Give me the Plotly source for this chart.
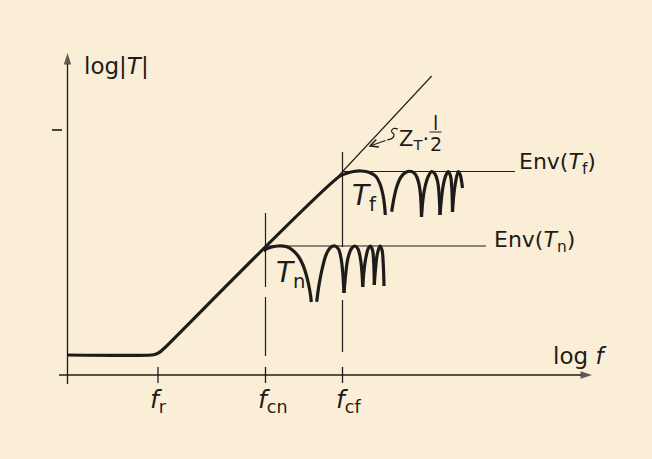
import plotly.graph_objects as go

# Frame: origin at the corner of the axes; x = log f, y = log|T| (arbitrary units)
X_MIN, X_MAX = -67.5, 584.5
Y_MIN, Y_MAX = -84.0, 375.0

INK = "#1e1c1a"
PAPER = "#faefd6"
FONT = "DejaVu Sans"

# characteristic frequencies on the log f axis
freq_subs = ["r", "cn", "cf"]
freq_pos = [90.5, 198.0, 275.0]
freq_label_dx = [-9.0, -8.5, -7.5]

# envelope levels of the two responses
env_n_level = 129.0
env_f_level = 203.5
env_n_x = [198.0, 418.5]
env_f_x = [275.0, 447.5]

# asymptotic response: plateau, 45-degree rise, then first lobe of T_f
main_x = [0, 84, 88, 91.5, 94.5, 97.5, 272.5, 278.5, 286, 294, 302, 308.5, 312.5, 315.5, 317, 317.8]
main_y = [20, 20, 20.7, 22.3, 24.7, 27.5, 199, 201.5, 203.5, 204, 202.5, 198.5, 191, 180, 170, 160]

# T_n lobes (each list is one arch between zeros)
tn_lobes_x = [
    [196, 202.5, 210.5, 218.5, 225.5, 231, 235.5, 238.5, 241, 243, 243.8],
    [249.2, 251.5, 254.2, 258.5, 263, 267.5, 271, 273.5, 275.2, 276.5],
    [276.5, 278.3, 280.5, 284, 287.5, 290.5, 293, 294.5, 295.2],
    [295.2, 296.5, 298.5, 301, 303, 305, 306.2, 306.8],
    [306.8, 308, 310, 312.5, 314.5, 315.8, 316.5],
]
tn_lobes_y = [
    [124.5, 127.5, 129, 128.5, 124.5, 118.5, 110, 101, 91, 80, 73],
    [73.3, 90, 104, 120, 127.5, 129, 126, 117, 103, 82],
    [82, 102, 117, 126.5, 129, 126, 116, 102, 88],
    [88, 104, 118, 127, 129, 125, 112, 90],
    [90, 106, 122, 129, 125, 110, 89],
]

# T_f lobes after the first one
tf_lobes_x = [
    [324.2, 326.5, 329.5, 333.5, 338.5, 344, 348, 351, 353, 354],
    [354, 355.5, 357.5, 360.5, 364.2, 367.5, 370, 371.5, 372.5],
    [372.5, 374, 376, 378.5, 380.8, 383, 384.3, 385],
    [385, 386.3, 388.3, 390.8, 392.8, 394.2, 395],
]
tf_lobes_y = [
    [163.3, 177, 189, 198, 202.8, 203.5, 200.5, 193, 180, 158],
    [158, 176, 188, 198, 203.5, 201, 194, 182, 160],
    [160, 177, 191, 200, 203.5, 199, 187, 163],
    [163, 180, 194, 203.5, 200, 193, 187],
]

# asymptote Z_T * l/2 continuing beyond f_cf
asym_x = [270.0, 364.2]
asym_y = [198.0, 299.0]

# dashed guides above f_cn and f_cf (y extents of each dash)
guide_cn_y = [[162, 88], [78, 19]]
guide_cf_y = [[223, 128], [75, 23]]

# axis extents
x_axis_x = [-8.5, 524.5]
y_axis_y = [-9.0, 322.0]

# pointer squiggle to the asymptote
squiggle_x = [330.5, 326, 324, 326.5, 325, 319.5]
squiggle_y = [246, 246.5, 243.5, 240.5, 237, 235]
pointer_tip = (301.0, 228.5)

fig = go.Figure()


def add_line(xs, ys, width, shape="linear"):
    fig.add_trace(go.Scatter(
        x=xs, y=ys, mode="lines",
        line=dict(color=INK, width=width, shape=shape, smoothing=1),
        hoverinfo="skip", showlegend=False, connectgaps=False))


def add_axis(xs, ys):
    fig.add_trace(go.Scatter(
        x=xs, y=ys, mode="lines+markers",
        line=dict(color=INK, width=1.3),
        marker=dict(symbol="arrow", size=[0, 12], angleref="previous",
                    color=INK, line=dict(width=0)),
        hoverinfo="skip", showlegend=False))


def join(segs_x, segs_y):
    xs, ys = [], []
    for sx, sy in zip(segs_x, segs_y):
        xs += list(sx) + [None]
        ys += list(sy) + [None]
    return xs, ys


def add_text(x, y, s, size, xanchor="left", yanchor="middle"):
    fig.add_annotation(
        x=x, y=y, xref="x", yref="y", text=s, showarrow=False,
        xanchor=xanchor, yanchor=yanchor, borderpad=0,
        font=dict(family=FONT, size=size, color=INK))


# axes with arrows
add_axis(x_axis_x, [0, 0])
add_axis([0, 0], y_axis_y)

# tick marks on the frequency axis and the single mark on the log|T| axis
tx, ty = join([[p, p] for p in freq_pos], [[-8, 8] for _ in freq_pos])
add_line(tx, ty, 1.3)
add_line([-15.5, -5.5], [245, 245], 1.6)

# dashed guides
gx, gy = join([[freq_pos[1]] * 2 for _ in guide_cn_y] + [[freq_pos[2]] * 2 for _ in guide_cf_y],
              guide_cn_y + guide_cf_y)
add_line(gx, gy, 1.2)

# envelopes
add_line(env_n_x, [env_n_level] * 2, 1.1)
add_line(env_f_x, [env_f_level] * 2, 1.1)

# asymptote
add_line(asym_x, asym_y, 1.1)

# responses
add_line(main_x, main_y, 3.2, "spline")
nx, ny = join(tn_lobes_x, tn_lobes_y)
add_line(nx, ny, 3.2, "spline")
fx, fy = join(tf_lobes_x, tf_lobes_y)
add_line(fx, fy, 3.2, "spline")

# pointer to the asymptote
add_line(squiggle_x, squiggle_y, 1.2, "spline")
fig.add_annotation(
    x=pointer_tip[0], y=pointer_tip[1], ax=squiggle_x[-1], ay=squiggle_y[-1],
    xref="x", yref="y", axref="x", ayref="y", text="", showarrow=True,
    arrowhead=5, arrowsize=1.3, arrowwidth=1.2, arrowcolor=INK,
    standoff=0, startstandoff=0)

# axis titles
add_text(15, 309, "log|<i>T</i>|", 23)
add_text(484.5, 19, "log <i>f</i>", 23)

# frequency labels
for p, dx, s in zip(freq_pos, freq_label_dx, freq_subs):
    add_text(p + dx, -26, f"<i>f</i><sub>{s}</sub>", 25)

# lobe labels
add_text(207.5, 101, "<i>T</i><sub>n</sub>", 28)
add_text(283.0, 178, "<i>T</i><sub>f</sub>", 28)

# envelope labels
add_text(450.5, 212, "Env(<i>T</i><sub>f</sub>)", 22)
add_text(425.5, 134, "Env(<i>T</i><sub>n</sub>)", 22)

# Z_T * l/2
add_text(330.5, 235, "Z<sub>T</sub>·", 21)
add_text(367.5, 252.5, "l", 19, xanchor="center")
add_line([362, 374], [243, 243], 1.0)
add_text(368.5, 231, "2", 19, xanchor="center")

fig.update_layout(
    width=652, height=459,
    margin=dict(l=0, r=0, t=0, b=0),
    paper_bgcolor=PAPER, plot_bgcolor=PAPER,
    xaxis=dict(range=[X_MIN, X_MAX], visible=False, fixedrange=True),
    yaxis=dict(range=[Y_MIN, Y_MAX], visible=False, fixedrange=True),
)

fig.write_html("out.html", config={"displayModeBar": False})
